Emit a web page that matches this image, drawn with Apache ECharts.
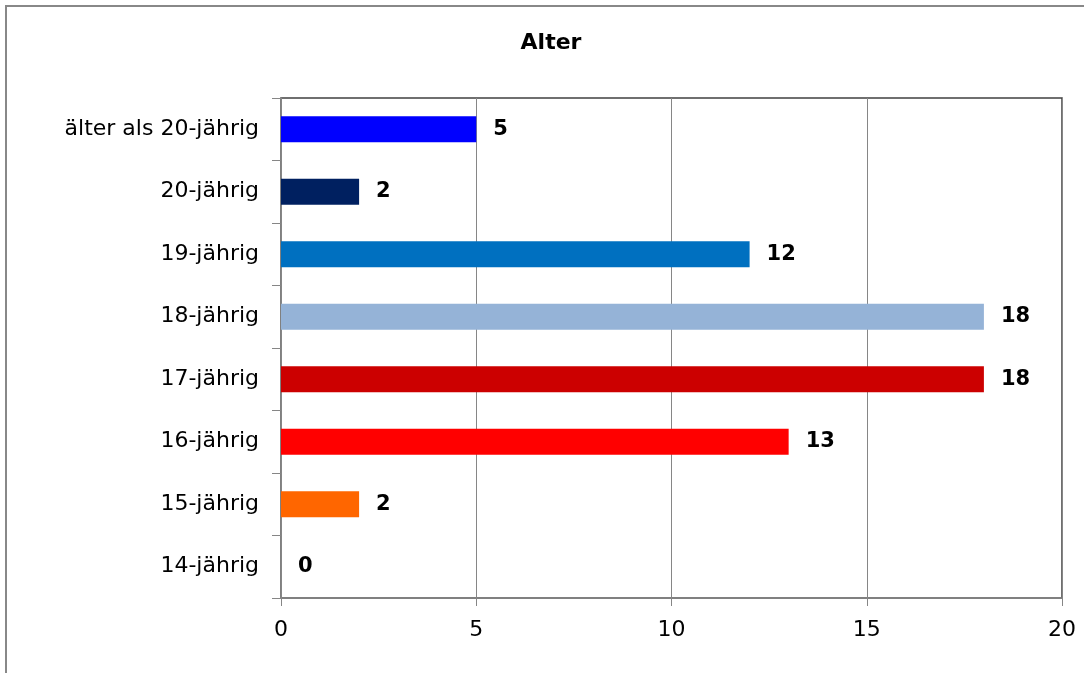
<!DOCTYPE html>
<html>
<head>
<meta charset="utf-8">
<script src="https://cdn.jsdelivr.net/npm/echarts@6/dist/echarts.min.js"></script>
<style>
  html, body { margin: 0; padding: 0; background: #fff; }
  #main { width: 1084px; height: 673px; }
</style>
</head>
<body>
<div id="main"></div>
<script>
// Altersgruppen (von unten nach oben)
var categories = ['14-jährig', '15-jährig', '16-jährig', '17-jährig', '18-jährig', '19-jährig', '20-jährig', 'älter als 20-jährig']
var counts = [0, 2, 13, 18, 18, 12, 2, 5]
var barColors = ['#FF6600', '#FF6600', '#FF0000', '#CC0000', '#95B3D7', '#0070C0', '#002060', '#0000FF']
var xTicks = [0, 5, 10, 15, 20]

var font = 'DejaVu Sans, Verdana, sans-serif'

var myChart = echarts.init(document.getElementById('main'))
myChart.setOption({
  animation: false,
  title: {
    text: 'Alter',
    left: 546,
    textAlign: 'center',
    top: 27,
    textStyle: { fontFamily: font, fontSize: 22, fontWeight: 'bold', color: '#000' }
  },
  graphic: [{
    type: 'rect',
    shape: { x: 6, y: 6, width: 1100, height: 700 },
    style: { fill: null, stroke: '#888', lineWidth: 2 },
    silent: true
  }],
  grid: {
    left: 281, right: 22, top: 98, bottom: 75,
    show: true,
    borderColor: '#404040',
    borderWidth: 1.5
  },
  xAxis: {
    type: 'value',
    min: xTicks[0],
    max: xTicks[xTicks.length - 1],
    interval: 5,
    axisLine: { show: true, lineStyle: { color: '#868686', width: 1.5 } },
    axisTick: { show: true, length: 8, lineStyle: { color: '#868686' } },
    axisLabel: { fontFamily: font, fontSize: 22, color: '#000', margin: 21 },
    splitLine: { show: true, lineStyle: { color: '#868686', width: 1 } }
  },
  yAxis: {
    type: 'category',
    data: categories,
    axisLine: { show: true, lineStyle: { color: '#868686', width: 1.5 } },
    axisTick: { show: true, length: 9, lineStyle: { color: '#868686' } },
    axisLabel: { fontFamily: font, fontSize: 22, color: '#000', margin: 22, padding: [2, 0, 0, 0] }
  },
  series: [{
    type: 'bar',
    data: counts.map(function (v, i) {
      return { value: v, itemStyle: { color: barColors[i] } }
    }),
    barWidth: 26,
    label: {
      show: true,
      position: 'right',
      distance: 17,
      fontFamily: font,
      fontSize: 21,
      fontWeight: 'bold',
      color: '#000'
    }
  }]
})
</script>
</body>
</html>
